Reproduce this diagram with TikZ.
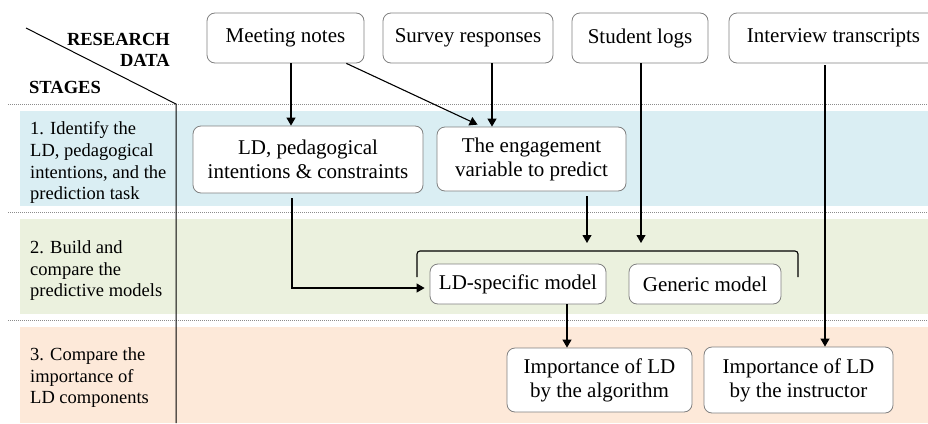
\documentclass[tikz,border=0pt]{standalone}
\usepackage{fontspec}
\setmainfont{Liberation Serif}
\usetikzlibrary{arrows.meta,calc}
\definecolor{bandblue}{RGB}{218,238,243}
\definecolor{bandgreen}{RGB}{235,241,222}
\definecolor{bandorange}{RGB}{253,233,217}
\begin{document}
\begin{tikzpicture}[x=1pt,y=-1pt,
  box/.style={draw=black!50, fill=white, rounded corners=8pt, line width=0.8pt,
    inner sep=0pt, align=center, font=\fontsize{21}{24}\selectfont},
  stagetext/.style={anchor=north west, inner sep=0pt, align=left,
    font=\fontsize{18.5}{21.7}\selectfont},
  headtext/.style={inner sep=0pt, font=\fontsize{18.5}{21}\selectfont\bfseries},
  arr/.style={-{Triangle[length=8pt,width=9pt]}, line width=1.1pt},
  link/.style={line width=1.1pt},
  sep/.style={draw=black!45, line width=1pt, dash pattern=on 1pt off 1pt}]
\useasboundingbox (0,0) rectangle (928,423);
\clip (0,0) rectangle (928,423);

% stage bands
\fill[bandblue]   (20,111) rectangle (928,206);
\fill[bandgreen]  (20,219) rectangle (928,314);
\fill[bandorange] (20,327) rectangle (928,423);

% dotted separators
\draw[sep] (8,104) -- (928,104);
\draw[sep] (8,212) -- (928,212);
\draw[sep] (8,320) -- (928,320);

% header corner and stage column rule
\draw[line width=1pt] (26,28) -- (176,104) -- (176,423);
\node[headtext, anchor=north east, align=right] (hdata) at (170,33) {RESEARCH\\DATA};
\node[headtext, anchor=north west] (hstages) at (29,81) {STAGES};

% stage labels
\node[stagetext] (s1) at (30,121.5) {1. Identify the\\LD, pedagogical\\intentions, and the\\prediction task};
\node[stagetext] (s2) at (30,240.5) {2. Build and\\compare the\\predictive models};
\node[stagetext] (s3) at (30,347.5) {3. Compare the\\importance of\\LD components};

% research data
\node[box, minimum width=157pt, minimum height=50pt] (mn) at (285.5,38) {Meeting notes};
\node[box, minimum width=170pt, minimum height=50pt] (sr) at (468,38) {Survey responses};
\node[box, minimum width=136pt, minimum height=50pt] (sl) at (640,38) {Student logs};
\node[box, minimum width=209pt, minimum height=50pt] (it) at (833.5,38) {Interview transcripts};

% stage 1
\node[box, minimum width=230pt, minimum height=67pt] (ld) at (308,159.5) {LD, pedagogical\\intentions \& constraints};
\node[box, minimum width=189pt, minimum height=64pt] (ev) at (531.5,159) {The engagement\\variable to predict};

% stage 2
\node[box, minimum width=176pt, minimum height=40pt] (lds) at (518,284) {LD-specific model};
\node[box, minimum width=152pt, minimum height=40pt] (gm) at (705,284) {Generic model};

% stage 3
\node[box, minimum width=185pt, minimum height=64pt] (ia) at (599.5,380) {Importance of LD\\by the algorithm};
\node[box, minimum width=189pt, minimum height=66pt] (ii) at (798.5,380) {Importance of LD\\by the instructor};

% bracket grouping the two models
\coordinate (brl) at (417,277);
\coordinate (brr) at (798,277);
\coordinate (brtop) at (0,243);
\draw[link, rounded corners=3pt] (brl) -- (417,251) -- (798,251) -- (brr);

% connectors
\draw[arr] (291,0 |- mn.south) -- (291,0 |- ld.north);
\draw[arr] ($(mn.south east)+(-18,0)$) -- ($(ev.north west)+(41,-2)$);
\draw[arr] (492,0 |- sr.south) -- (492,0 |- ev.north);
\draw[arr] ($(292,0 |- ld.south)+(0,5)$) |- ($(lds.west)+(-5,4)$);
\draw[arr] ($(587,0 |- ev.south)+(0,5)$) -- (587,0 |- brtop);
\draw[arr] (641,0 |- sl.south) -- (641,0 |- brtop);
\draw[arr] (567,0 |- lds.south) -- (567,0 |- ia.north);
\draw[arr] ($(825,0 |- it.south)+(0,2)$) -- (825,0 |- ii.north);
\end{tikzpicture}
\end{document}
